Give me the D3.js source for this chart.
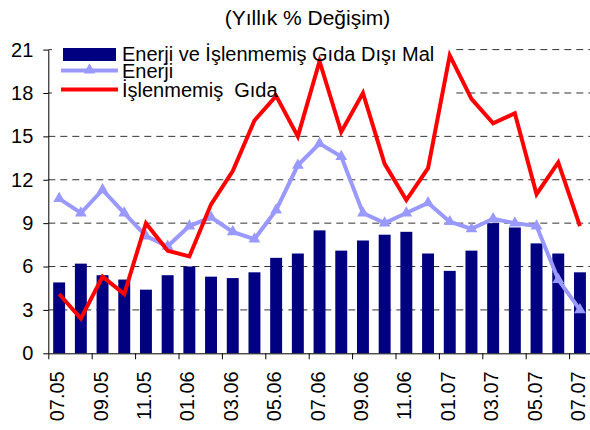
<!DOCTYPE html>
<html>
<head>
<meta charset="utf-8">
<script src="https://cdn.jsdelivr.net/npm/d3@7"></script>
<style>
  body { margin: 0; background: #fff; }
  svg { font-family: "Liberation Sans", Arial, sans-serif; }
</style>
</head>
<body>
<div id="chart"></div>
<script>
// monthly categories, 07.05 .. 07.07
const months = ['07.05', '08.05', '09.05', '10.05', '11.05', '12.05',
                '01.06', '02.06', '03.06', '04.06', '05.06', '06.06',
                '07.06', '08.06', '09.06', '10.06', '11.06', '12.06',
                '01.07', '02.07', '03.07', '04.07', '05.07', '06.07', '07.07'];

// bars: Enerji ve İşlenmemiş Gıda Dışı Mal
const nonFoodEnergy = [4.9, 6.2, 5.4, 5.1, 4.4, 5.4, 6.0, 5.3, 5.2, 5.6, 6.6, 6.9,
                       8.5, 7.1, 7.8, 8.2, 8.4, 6.9, 5.7, 7.1, 9.0, 8.7, 7.6, 6.9, 5.6];

// light blue line: Enerji
const energy = [10.7, 9.7, 11.3, 9.7, 8.1, 7.4, 8.8, 9.4, 8.4, 7.9, 9.9, 13.0,
                14.5, 13.6, 9.7, 9.0, 9.7, 10.4, 9.1, 8.6, 9.3, 9.0, 8.8, 5.1, 3.0];

// red line: İşlenmemiş Gıda
const food = [4.1, 2.4, 5.3, 4.1, 9.0, 7.1, 6.7, 10.3, 12.6, 16.1, 17.8, 15.0,
              20.2, 15.3, 18.0, 13.1, 10.6, 12.8, 20.6, 17.6, 15.9, 16.6, 11.0, 13.2, 8.8];

const yTicks = [0, 3, 6, 9, 12, 15, 18, 21];
const xLabels = months.filter((m, i) => i % 2 === 0);

const seriesNames = ['Enerji ve İşlenmemiş Gıda Dışı Mal', 'Enerji', 'İşlenmemiş  Gıda'];

const width = 590;
const height = 430;
const plotLeft = 48.3;
const plotRight = 590.8;
const plotTop = 49.6;
const plotBottom = 353.3;

const svg = d3.select('#chart')
    .append('svg')
        .attr('width', width)
        .attr('height', height);

const x = d3.scaleBand()
    .domain(months)
    .range([plotLeft, plotRight])
    .paddingInner(0.45)
    .paddingOuter(0.225);

// index scale, used for the tick marks between the months
const xi = d3.scaleLinear()
    .domain([0, months.length])
    .range([plotLeft, plotRight]);

const y = d3.scaleLinear()
    .domain([0, 21])
    .range([plotBottom, plotTop]);

const cx = (d, i) => x(months[i]) + x.bandwidth() / 2;

// title
svg.append('text')
    .attr('x', 307.5)
    .attr('y', 25)
    .attr('text-anchor', 'middle')
    .style('font-size', '21px')
    .text('(Yıllık % Değişim)');

// dashed grid
svg.append('g')
    .selectAll('line')
    .data(yTicks.filter(d => d > 0))
    .enter()
        .append('line')
            .attr('x1', plotLeft)
            .attr('x2', plotRight)
            .attr('y1', d => y(d))
            .attr('y2', d => y(d))
            .attr('stroke', '#333')
            .attr('stroke-width', 1)
            .attr('stroke-dasharray', '7,5');

// legend background hides the grid behind it
svg.append('rect')
    .attr('x', 52)
    .attr('y', 40)
    .attr('width', 400)
    .attr('height', 60)
    .attr('fill', '#fff');

// bars
svg.append('g')
    .selectAll('rect')
    .data(nonFoodEnergy)
    .enter()
        .append('rect')
            .attr('x', (d, i) => x(months[i]))
            .attr('y', d => y(d))
            .attr('width', x.bandwidth())
            .attr('height', d => plotBottom - y(d))
            .attr('fill', '#000080');

// axes
const yAxis = svg.append('g')
    .attr('transform', `translate(${plotLeft}, 0)`)
    .call(d3.axisLeft(y).tickValues(yTicks).tickSize(5).tickPadding(10).tickSizeOuter(0));
yAxis.selectAll('text').style('font-size', '20px').attr('fill', '#000');
yAxis.selectAll('line, path').attr('stroke', '#000');

const xTicks = svg.append('g')
    .attr('transform', `translate(0, ${plotBottom})`)
    .call(d3.axisBottom(xi)
        .tickValues(d3.range(0, months.length, 2))
        .tickFormat('')
        .tickSize(6)
        .tickSizeOuter(0));
xTicks.selectAll('line, path').attr('stroke', '#000');

const xAxis = svg.append('g')
    .attr('transform', `translate(0, ${plotBottom})`)
    .call(d3.axisBottom(x).tickValues(xLabels).tickSize(0));
xAxis.select('path').remove();
xAxis.selectAll('text')
    .style('font-size', '20px')
    .attr('fill', '#000')
    .attr('text-anchor', 'end')
    .attr('transform', 'rotate(-90)')
    .attr('x', -18)
    .attr('y', -2)
    .attr('dy', '0.35em');

// lines
const line = d3.line()
    .x(cx)
    .y(d => y(d));

svg.append('path')
    .datum(energy)
    .attr('d', line)
    .attr('fill', 'none')
    .attr('stroke', '#9999ff')
    .attr('stroke-width', 4)
    .attr('stroke-linejoin', 'miter');

const tri = d3.symbol().type(d3.symbolTriangle).size(60);

svg.append('g')
    .selectAll('path')
    .data(energy)
    .enter()
        .append('path')
            .attr('d', tri)
            .attr('transform', (d, i) => `translate(${cx(d, i)}, ${y(d)})`)
            .attr('fill', '#9999ff');

svg.append('path')
    .datum(food)
    .attr('d', line)
    .attr('fill', 'none')
    .attr('stroke', '#ff0000')
    .attr('stroke-width', 4)
    .attr('stroke-linejoin', 'miter');

// legend
const legend = svg.append('g');

legend.append('rect')
    .attr('x', 63)
    .attr('y', 48)
    .attr('width', 53)
    .attr('height', 13)
    .attr('fill', '#000080');

legend.append('line')
    .attr('x1', 61).attr('x2', 118)
    .attr('y1', 70.5).attr('y2', 70.5)
    .attr('stroke', '#9999ff')
    .attr('stroke-width', 4);

legend.append('path')
    .attr('d', tri)
    .attr('transform', 'translate(89.5, 70)')
    .attr('fill', '#9999ff');

legend.append('line')
    .attr('x1', 61).attr('x2', 118)
    .attr('y1', 89.5).attr('y2', 89.5)
    .attr('stroke', '#ff0000')
    .attr('stroke-width', 4);

legend.selectAll('text')
    .data(seriesNames)
    .enter()
        .append('text')
            .attr('x', 122)
            .attr('y', (d, i) => [61, 77.5, 97][i])
            .style('font-size', '20px')
            .style('white-space', 'pre')
            .text(d => d);
</script>
</body>
</html>
